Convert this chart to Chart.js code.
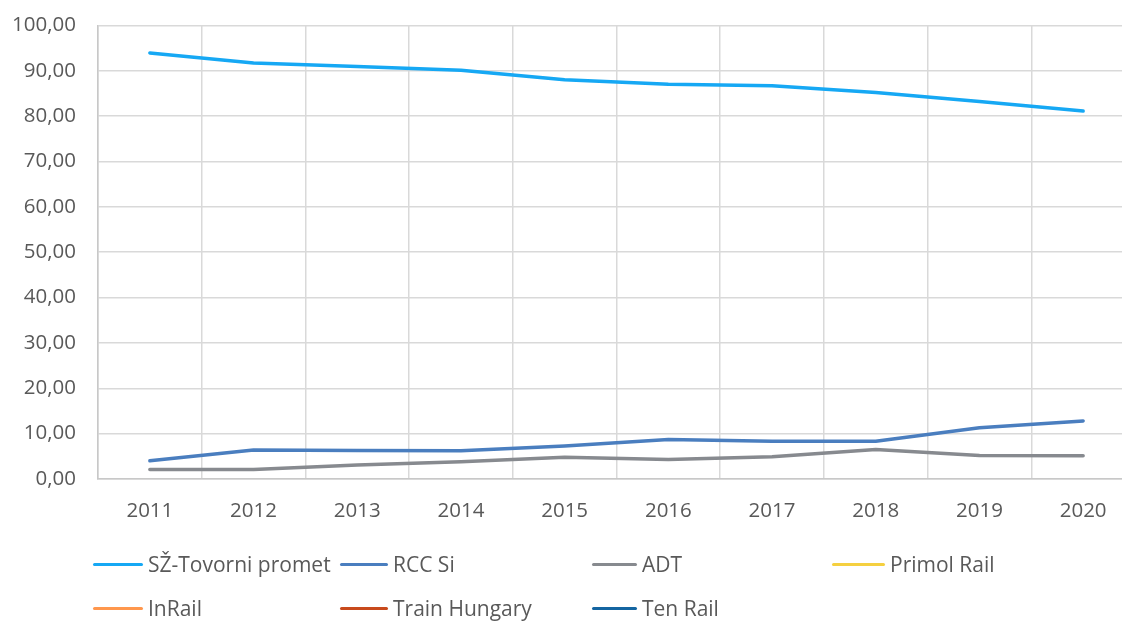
<!DOCTYPE html>
<html>
<head>
<meta charset="utf-8">
<script src="https://cdn.jsdelivr.net/npm/chart.js@4.4.1/dist/chart.umd.min.js"></script>
<style>
  html, body { margin: 0; padding: 0; background: #fff; overflow: hidden; }
  body { width: 1122px; height: 621px; position: relative; font-family: "Open Sans", sans-serif; }
  #wrap { position: absolute; left: 0; top: -9px; width: 1140px; height: 539px; }
  #legend { position: absolute; left: 0; top: 0; width: 1122px; height: 621px; pointer-events: none; }
  .item { position: absolute; display: flex; align-items: center; font-size: 21px; color: #595959; white-space: nowrap; }
  .item .swatch { width: 50px; height: 3px; border-radius: 2px; margin-right: 5px; }
</style>
</head>
<body>
<div id="wrap"><canvas id="chart"></canvas></div>
<div id="legend"></div>
<script>
// categories
const years = ['2011', '2012', '2013', '2014', '2015', '2016', '2017', '2018', '2019', '2020'];

// series values
const szTovorni = [93.9, 91.7, 90.9, 90.1, 88.0, 87.0, 86.7, 85.2, 83.2, 81.1];
const rccSi = [4.0, 6.4, 6.3, 6.2, 7.3, 8.7, 8.3, 8.3, 11.3, 12.8];
const adt = [2.1, 2.1, 3.1, 3.8, 4.8, 4.3, 4.9, 6.5, 5.2, 5.1];
const primolRail = [null, null, null, null, null, null, null, null, null, null];
const inRail = [null, null, null, null, null, null, null, null, null, null];
const trainHungary = [null, null, null, null, null, null, null, null, null, null];
const tenRail = [null, null, null, null, null, null, null, null, null, null];

// y tick labels
const yTicks = [0, 10, 20, 30, 40, 50, 60, 70, 80, 90, 100];

const seriesNames = ['SŽ-Tovorni promet', 'RCC Si', 'ADT', 'Primol Rail', 'InRail', 'Train Hungary', 'Ten Rail'];
const seriesData = [szTovorni, rccSi, adt, primolRail, inRail, trainHungary, tenRail];
const seriesColors = ['#16A8F4', '#4A7EBF', '#878A8F', '#F5D040', '#FF974D', '#C84A1C', '#1465A1'];

// legend layout (Excel style grid, 4 columns)
const legendCols = [93, 340, 592, 832];
const legendRows = [564, 608];
const legendSwatch = [50, 48, 45, 53];

const legend = document.getElementById('legend');
seriesNames.forEach((name, i) => {
    const col = i % 4, row = Math.floor(i / 4);
    const el = document.createElement('div');
    el.className = 'item';
    el.style.left = legendCols[col] + 'px';
    el.style.top = (legendRows[row] - 14) + 'px';
    el.style.height = '28px';
    el.innerHTML = `<span class="swatch" style="background:${seriesColors[i]};width:${legendSwatch[col]}px"></span><span>${name}</span>`;
    legend.appendChild(el);
});

const fmt = v => v.toFixed(2).replace('.', ',');

new Chart(document.getElementById('chart'), {
    type: 'line',
    data: {
        labels: years,
        datasets: seriesNames.map((name, i) => ({
            label: name,
            data: seriesData[i],
            borderColor: seriesColors[i],
            backgroundColor: seriesColors[i],
            borderWidth: 3.5,
            pointRadius: 0,
            tension: 0,
            borderCapStyle: 'round',
            borderJoinStyle: 'round',
            spanGaps: false
        }))
    },
    options: {
        responsive: true,
        maintainAspectRatio: false,
        animation: false,
        layout: { padding: { top: 5, right: 5, left: 0, bottom: 0 } },
        plugins: {
            legend: { display: false },
            tooltip: { enabled: false }
        },
        scales: {
            x: {
                type: 'category',
                offset: true,
                grid: { offset: true, color: '#D9D9D9', lineWidth: 1.5, drawTicks: false },
                border: { color: '#C8C8C8', width: 1.5 },
                ticks: { color: '#595959', font: { family: 'Open Sans', size: 20.5 }, padding: 20, maxRotation: 0 },
                afterFit: s => { s.height = 51; }
            },
            y: {
                min: 0,
                max: 100,
                afterBuildTicks: s => { s.ticks = yTicks.map(v => ({ value: v })); },
                grid: { color: '#D9D9D9', lineWidth: 1.5, drawTicks: false },
                border: { color: '#C8C8C8', width: 1.5 },
                ticks: { color: '#595959', font: { family: 'Open Sans', size: 20.5 }, padding: 22, callback: v => fmt(v) },
                afterFit: s => { s.width = 98; }
            }
        }
    }
});
</script>
</body>
</html>
